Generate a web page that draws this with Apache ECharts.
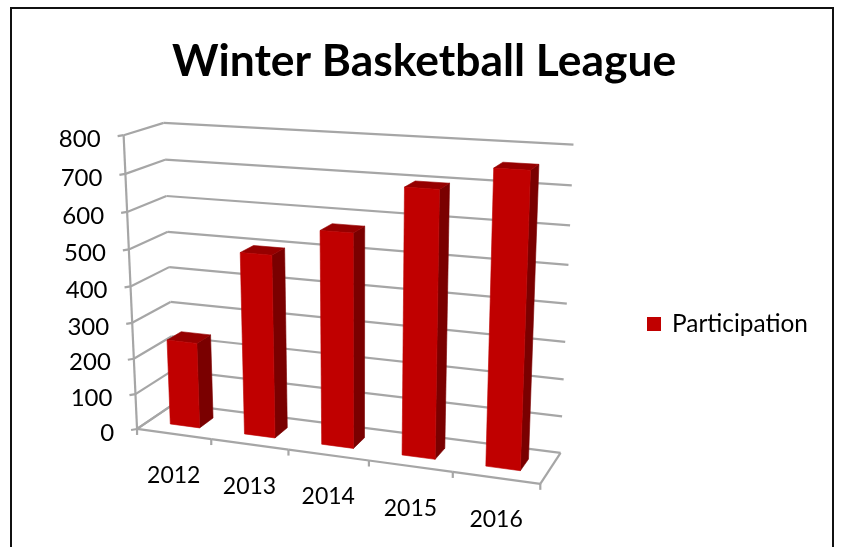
<!DOCTYPE html>
<html><head><meta charset="utf-8">
<style>html,body{margin:0;padding:0;background:#fff}#c{width:842px;height:547px}</style>
<script src="https://cdn.jsdelivr.net/npm/echarts@6/dist/echarts.min.js"></script>
</head><body><div id="c"></div>
<script>
const categories = ['2012','2013','2014','2015','2016'];
const participation = [240, 500, 575, 700, 760];
const yTicks = [0,100,200,300,400,500,600,700,800];
const seriesName = 'Participation';
const yMax = 800;
const barFill = 0.4;       // bar share of a category's width
const depthNear = 0.3, depthFar = 0.68;

// Camera: where known corners of the 3D box land on screen.  [u, depth, t, x, y]
const camera = [
  [0,0,0,137,429],[0,0,1,124,135],[0,1,1,163,123],[0,1,0.375,171,302],
  [1,1,1,573,145],[1,1,0,560,453],[1,1,0.5,568,303],[1,0,0,540,484],[0.2,0,0,211,439],[0.8,0,0,453,472]
];
function solveCamera(pts){
  const N=11, A=Array.from({length:N},()=>new Array(N+1).fill(0));
  const add=(r,b)=>{for(let i=0;i<N;i++){for(let j=0;j<N;j++)A[i][j]+=r[i]*r[j];A[i][N]+=r[i]*b;}};
  pts.forEach(([u,d,t,x,y])=>{
    add([u,d,t,1,0,0,0,0,-x*u,-x*d,-x*t],x);
    add([0,0,0,0,u,d,t,1,-y*u,-y*d,-y*t],y);
  });
  for(let i=0;i<N;i++){
    let p=i;for(let k=i+1;k<N;k++)if(Math.abs(A[k][i])>Math.abs(A[p][i]))p=k;
    [A[i],A[p]]=[A[p],A[i]];
    for(let k=0;k<N;k++){if(k===i)continue;const f=A[k][i]/A[i][i];for(let j=i;j<=N;j++)A[k][j]-=f*A[i][j];}
  }
  return A.map((r,i)=>r[N]/r[i]);
}
const M=solveCamera(camera);
function proj(u,d,t){
  const w=M[8]*u+M[9]*d+M[10]*t+1;
  return [(M[0]*u+M[1]*d+M[2]*t+M[3])/w,(M[4]*u+M[5]*d+M[6]*t+M[7])/w];
}
const lineColor='#a6a6a6', font='Lato';
const line=(a,b,w)=>({type:'line',shape:{x1:a[0],y1:a[1],x2:b[0],y2:b[1]},style:{stroke:lineColor,lineWidth:w||2.2}});
const poly=(pts,fill)=>({type:'polygon',shape:{points:pts},style:{fill,stroke:fill,lineWidth:0.6}});
const unit=(params,api,c,v)=>{
  const r=params.coordSys, p=api.coord([c,v]);
  return {u:(p[0]-r.x)/r.width,t:(r.y+r.height-p[1])/r.height,band:api.size([1,0])[0]/r.width};
};

const chart=echarts.init(document.getElementById('c'),null,{renderer:'canvas'});
chart.setOption({
  animation:false,
  backgroundColor:'#fff',
  title:{text:'Winter Basketball League',left:172,top:40,padding:0,
    textStyle:{fontFamily:font,fontWeight:'bold',fontSize:44.4,color:'#000'}},
  legend:{data:[seriesName],left:647,top:312,icon:'rect',itemWidth:14,itemHeight:14,itemGap:0,padding:0,
    textStyle:{fontFamily:font,fontSize:24.4,color:'#000',padding:[0,0,8,6]}},
  grid:{left:130,right:270,top:130,bottom:110,show:false},
  xAxis:{type:'category',data:categories,show:false},
  yAxis:{type:'value',min:0,max:yMax,interval:100,show:false},
  graphic:[{type:'polyline',z:100,shape:{points:[[11,547],[11,8],[833,8],[833,547]]},
    style:{stroke:'#111',lineWidth:2,fill:'none'},silent:true}],
  series:[
    {name:'walls',type:'custom',clip:false,silent:true,z:1,data:yTicks.map(v=>[0,v]),
     renderItem(params,api){
       const t=unit(params,api,0,api.value(1)).t, v=api.value(1);
       const fl=proj(0,0,t), bl=proj(0,1,t), br=proj(1,1,t);
       return {type:'group',children:[
         line(fl,bl),line(bl,br),line([fl[0]-6,fl[1]+1],fl),
         {type:'text',style:{text:String(v),x:fl[0]-23,y:fl[1]+4,align:'right',verticalAlign:'middle',
           fill:'#000',font:'24px '+font}}
       ]};
     }},
    {name:'axes',type:'custom',clip:false,silent:true,z:1,data:[[0,0],[0,yMax]],
     renderItem(params,api){
       if(params.dataIndex!==0) return {type:'group',children:[]};
       return line(proj(0,0,0),proj(0,0,1));
     }},
    {name:'floor',type:'custom',clip:false,silent:true,z:1,data:categories.map((c,i)=>[i,0]),
     renderItem(params,api){
       const q=unit(params,api,api.value(0),0), u0=q.u-q.band/2, u1=q.u+q.band/2;
       const kids=[line(proj(u0,0,0),proj(u1,0,0)),
                   line(proj(u1,0,0),[proj(u1,0,0)[0],proj(u1,0,0)[1]+6]),
                   {type:'text',style:{text:categories[params.dataIndex],x:proj(q.u,0,0)[0],y:proj(q.u,0,0)[1]+42,
                     align:'center',verticalAlign:'middle',fill:'#000',font:'23px '+font}}];
       if(params.dataIndex===0){const a=proj(0,0,0);kids.push(line(a,[a[0],a[1]+6]),line(proj(0,0,0),proj(0,1,0)));}
       if(params.dataIndex===categories.length-1)kids.push(line(proj(1,0,0),proj(1,1,0)));
       return {type:'group',children:kids};
     }},
    {name:seriesName,type:'custom',clip:false,z:3,itemStyle:{color:'#c00000'},
     data:participation.map((v,i)=>[i,v]),encode:{x:0,y:1},
     renderItem(params,api){
       const q=unit(params,api,api.value(0),api.value(1));
       const h=q.band*barFill/2, a=q.u-h, b=q.u+h, t=q.t, n=depthNear, f=depthFar;
       return {type:'group',children:[
         poly([proj(b,n,0),proj(b,f,0),proj(b,f,t),proj(b,n,t)],'#7a0000'),
         poly([proj(a,n,t),proj(b,n,t),proj(b,f,t),proj(a,f,t)],'#960000'),
         poly([proj(a,n,0),proj(b,n,0),proj(b,n,t),proj(a,n,t)],'#c00000')
       ]};
     }}
  ]
});
</script></body></html>
